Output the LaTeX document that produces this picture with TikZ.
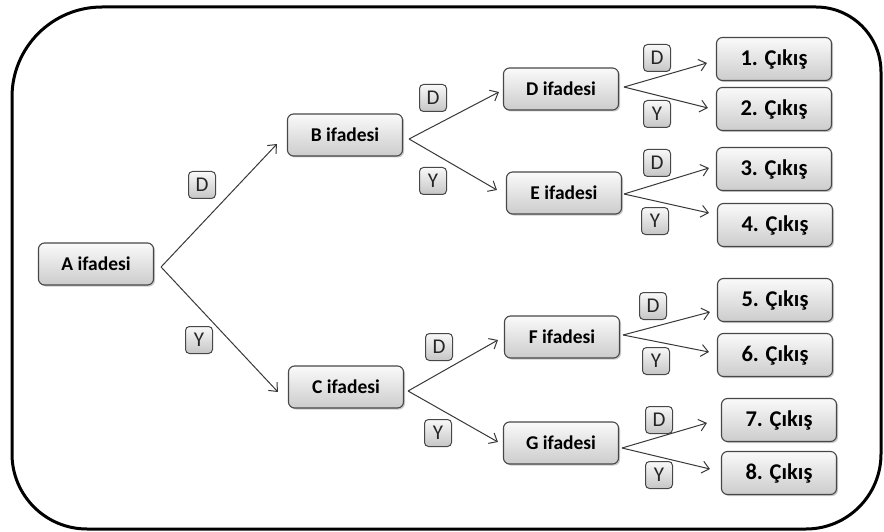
\documentclass[tikz,border=0pt]{standalone}
\usepackage{fontspec}
\setmainfont{Carlito}
\usetikzlibrary{arrows.meta,shadows,calc}
\begin{document}
\begin{tikzpicture}[x=1pt,y=-1pt,
  stmt/.style={draw=black!72, line width=1.1pt, rounded corners=6pt,
    top color=gray!4, bottom color=gray!40,
    minimum width=115pt, minimum height=42pt, inner sep=0pt,
    font=\fontsize{19.5}{22}\selectfont\bfseries, text=black,
    drop shadow={shadow xshift=1.5pt, shadow yshift=-1.5pt, opacity=0.35, fill=black!60}},
  outbox/.style={stmt, minimum height=43pt, font=\fontsize{22.5}{25}\selectfont\bfseries},
  tag/.style={draw=black!72, line width=1pt, rounded corners=4pt,
    top color=gray!5, bottom color=gray!45,
    minimum width=27pt, minimum height=27pt, inner sep=0pt,
    font=\fontsize{21}{22}\selectfont, text=black!85},
  arr/.style={draw=black!78, line width=1pt,
    -{Straight Barb[length=7pt,width=12pt,line width=1pt]}},
  frame/.style={line width=3pt, line join=round}
]
\useasboundingbox (0,0) rectangle (884,532);

% outer frame with unequal corner radii
\draw[frame] (12,97) arc (180:90:90pt) -- (816,7) arc (90:0:65pt)
  -- (881,454) arc (0:-90:75pt) -- (87,529) arc (270:180:75pt) -- cycle;

% statements
\node[stmt] (A) at (96,264) {A ifadesi};
\node[stmt] (B) at (345,135) {B ifadesi};
\node[stmt] (C) at (346,387) {C ifadesi};
\node[stmt] (D) at (561,89) {D ifadesi};
\node[stmt] (E) at (564,193) {E ifadesi};
\node[stmt] (F) at (562,337) {F ifadesi};
\node[stmt] (G) at (561,443) {G ifadesi};

% outputs
\node[outbox] (o1) at (774,59) {1. Çıkış};
\node[outbox] (o2) at (774,109) {2. Çıkış};
\node[outbox] (o3) at (774,169) {3. Çıkış};
\node[outbox] (o4) at (775,225) {4. Çıkış};
\node[outbox] (o5) at (775,300) {5. Çıkış};
\node[outbox] (o6) at (775,355) {6. Çıkış};
\node[outbox] (o7) at (779,420) {7. Çıkış};
\node[outbox] (o8) at (779,473) {8. Çıkış};

% branch tags
\node[tag] (tA1) at (202,185) {D};
\node[tag] (tA2) at (199,340) {Y};
\node[tag] (tB1) at (433,98) {D};
\node[tag] (tB2) at (433,181) {Y};
\node[tag] (tC1) at (439,347) {D};
\node[tag] (tC2) at (438,433) {Y};
\node[tag] (tD1) at (657,58) {D};
\node[tag] (tD2) at (657,114) {Y};
\node[tag] (tE1) at (657,163) {D};
\node[tag] (tE2) at (655,221) {Y};
\node[tag] (tF1) at (653,306) {D};
\node[tag] (tF2) at (656,361) {Y};
\node[tag] (tG1) at (659,420) {D};
\node[tag] (tG2) at (659,475) {Y};

% branches
\draw[arr] ($(A.east)+(7,3)$) -- ($(B.west)+(-10,9)$);
\draw[arr] ($(A.east)+(7,3)$) -- ($(C.west)+(-10,5)$);
\draw[arr] ($(B.east)+(6,4)$) -- ($(D.west)+(-4,3)$);
\draw[arr] ($(B.east)+(6,4)$) -- ($(E.west)+(-9,-3)$);
\draw[arr] ($(C.east)+(4,4)$) -- ($(F.west)+(-6,3)$);
\draw[arr] ($(C.east)+(4,4)$) -- ($(G.west)+(-5,-1)$);
\draw[arr] ($(D.east)+(5,-2)$) -- ($(o1.west)+(-9,4)$);
\draw[arr] ($(D.east)+(5,-2)$) -- ($(o2.west)+(-8,-1)$);
\draw[arr] ($(E.east)+(2,1)$) -- ($(o3.west)+(-7,-1)$);
\draw[arr] ($(E.east)+(2,1)$) -- ($(o4.west)+(-8,-12)$);
\draw[arr] ($(F.east)+(3,-2)$) -- ($(o5.west)+(-7,12)$);
\draw[arr] ($(F.east)+(3,-2)$) -- ($(o6.west)+(-8,-3)$);
\draw[arr] ($(G.east)+(3,5)$) -- ($(o7.west)+(-14,3)$);
\draw[arr] ($(G.east)+(3,5)$) -- ($(o8.west)+(-11,-4)$);
\end{tikzpicture}
\end{document}
